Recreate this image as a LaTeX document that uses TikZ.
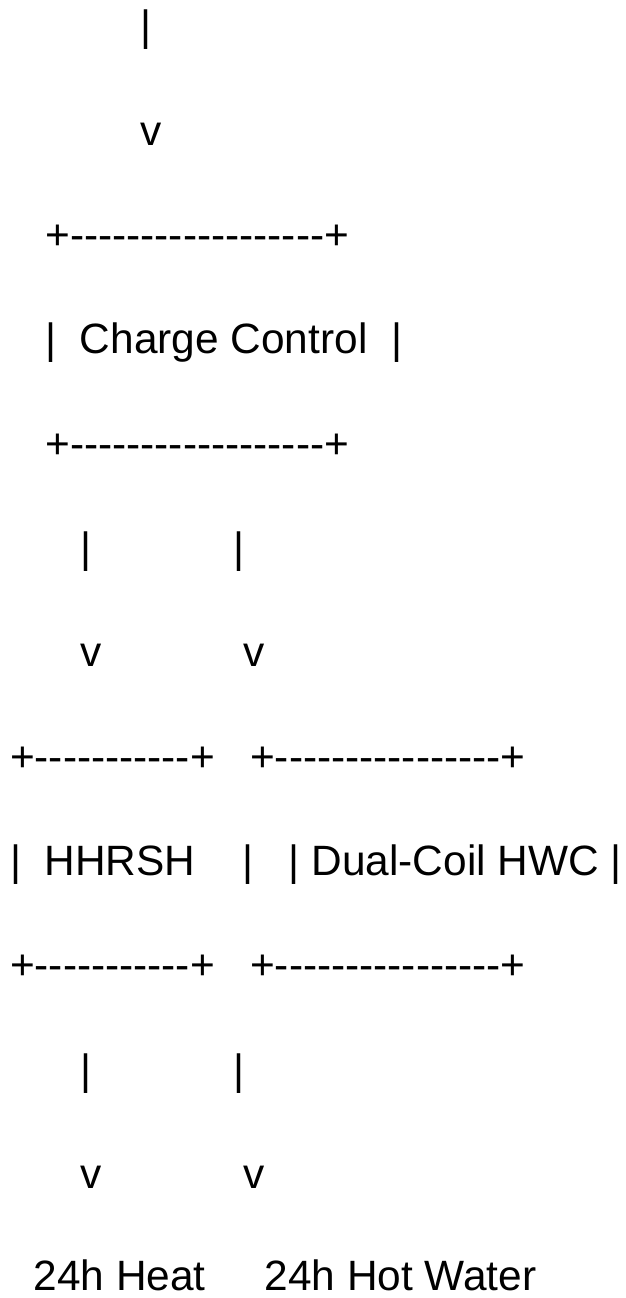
\documentclass[tikz,border=0pt]{standalone}
\usepackage{fontspec}
\newfontfamily\asc{Liberation Sans}
\newcommand\dashrun[1]{\foreach \k in {1,...,#1}{\hbox{-}}}
\begin{document}
\begin{tikzpicture}[x=1pt,y=-1pt,
  txt/.style={anchor=base west,inner sep=0pt,outer sep=0pt,font=\asc\fontsize{42.4pt}{50pt}\selectfont}]
\useasboundingbox[fill=white] (0,0) rectangle (625,1298);
\node[txt] (l1) at (140,41) {|};
\node[txt] (l2) at (140,145.3) {v};
\node[txt] (l3) at (45.4,249.6) {+\dashrun{18}+};
\node[txt] (l4) at (45.4,353.9) {|~~Charge Control~~|};
\node[txt] (l5) at (45.4,458.2) {+\dashrun{18}+};
\node[txt] (l6) at (80.8,562.5) {|~~~~~~~~~~~~|};
\node[txt] (l7) at (80.8,666.8) {v~~~~~~~~~~~~v};
\node[txt] (l8) at (10,771.1) {+\dashrun{11}+~~~+\dashrun{16}+};
\node[txt] (l9) at (10,875.4) {|~~HHRSH~~~~|~~~|~Dual-Coil HWC~|};
\node[txt] (l10) at (10,979.7) {+\dashrun{11}+~~~+\dashrun{16}+};
\node[txt] (l11) at (80.8,1084) {|~~~~~~~~~~~~|};
\node[txt] (l12) at (80.8,1188.3) {v~~~~~~~~~~~~v};
\node[txt] (l13) at (33.6,1290.5) {24h Heat~~~~~24h Hot Water};
\end{tikzpicture}
\end{document}
